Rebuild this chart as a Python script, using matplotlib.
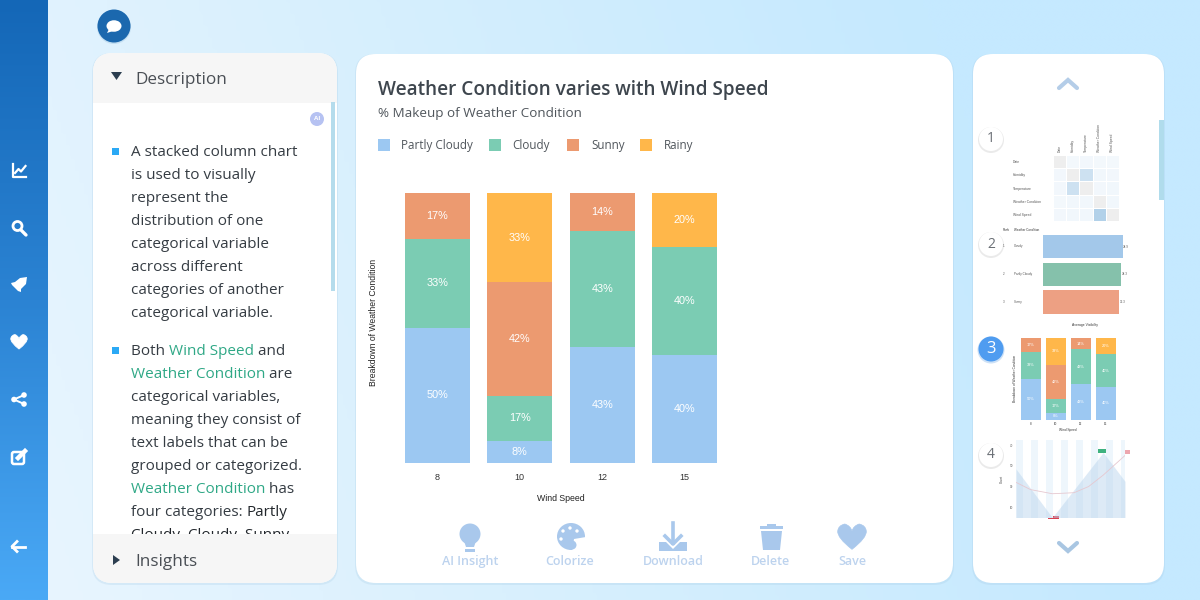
import numpy as np
import matplotlib
matplotlib.use('Agg')
import matplotlib.pyplot as plt
from matplotlib.colors import LinearSegmentedColormap
from matplotlib.patches import Circle, Ellipse, FancyBboxPatch, PathPatch, Polygon, Rectangle
from matplotlib.path import Path

# main chart data
wind_speed = ['8', '10', '12', '15']
weather = ['Partly Cloudy', 'Cloudy', 'Sunny', 'Rainy']
partly_cloudy = [50, 8, 43, 40]
cloudy = [33, 17, 43, 40]
sunny = [17, 42, 14, 0]
rainy = [0, 33, 0, 20]
series_colors = ['#9cc8f2', '#7bccb3', '#ec9a70', '#ffb74a']

# thumbnail 1, correlation grid
heat_labels = ['Date', 'Humidity', 'Temperature', 'Weather Condition', 'Wind Speed']
heat_values = [[np.nan, 0.03, 0.04, 0.03, 0.03],
               [0.04, np.nan, 0.45, 0.05, 0.04],
               [0.04, 0.45, np.nan, 0.04, 0.05],
               [0.03, 0.05, 0.05, np.nan, 0.05],
               [0.04, 0.05, 0.05, 0.75, np.nan]]

# thumbnail 2, ranking
rank_labels = ['Cloudy', 'Partly Cloudy', 'Sunny']
rank_values = [34.9, 34.3, 33.3]
rank_colors = ['#a3c8ea', '#85c1ab', '#eda083']

# thumbnail 4, area and trend
area_x = [5, 10, 17, 20]
area_y = [47, 0, 63, 35]
trend_x = [5, 7, 10, 13, 15, 17, 20]
trend_y = [34, 27, 23, 24, 30, 41, 60]

# text of the description panel
DARK = '#353c43'
GREEN = '#2fa886'
BLACK = '#22272c'
desc_lines = [
    (151, [('A stacked column chart', DARK)]),
    (174, [('is used to visually', DARK)]),
    (197, [('represent the', DARK)]),
    (220, [('distribution of one', DARK)]),
    (243, [('categorical variable', DARK)]),
    (266, [('across different', DARK)]),
    (289, [('categories of another', DARK)]),
    (312, [('categorical variable.', DARK)]),
    (350, [('Both ', DARK), ('Wind Speed', GREEN), (' and', DARK)]),
    (373, [('Weather Condition', GREEN), (' are', DARK)]),
    (396, [('categorical variables,', DARK)]),
    (419, [('meaning they consist of', DARK)]),
    (442, [('text labels that can be', DARK)]),
    (465, [('grouped or categorized.', DARK)]),
    (488, [('Weather Condition', GREEN), (' has', DARK)]),
    (511, [('four categories: ', DARK), ('Partly', BLACK)]),
    (534, [('Cloudy, Cloudy, Sunny', BLACK)]),
]

plt.rcParams['font.family'] = ['Open Sans', 'DejaVu Sans']
fig = plt.figure(figsize=(12, 6), dpi=100)
ui = fig.add_axes([0, 0, 1, 1], zorder=0)
ui.set_xlim(0, 1200)
ui.set_ylim(600, 0)
ui.axis('off')


def px_axes(x0, y0, x1, y1):
    # axes from pixel box, y measured from the top
    ax = fig.add_axes([x0 / 1200, 1 - y1 / 600, (x1 - x0) / 1200, (y1 - y0) / 600], zorder=2)
    ax.patch.set_alpha(0)
    return ax


def panel(x0, y0, x1, y1, r=20, color='white', z=2):
    ui.add_patch(FancyBboxPatch((x0 + r, y0 + r + 1), x1 - x0 - 2 * r, y1 - y0 - 2 * r,
                                boxstyle='round,pad=%d,rounding_size=%d' % (r + 1, r),
                                fc='#9cc4e0', ec='none', alpha=0.22, zorder=z - 0.5))
    ui.add_patch(FancyBboxPatch((x0 + r, y0 + r), x1 - x0 - 2 * r, y1 - y0 - 2 * r,
                                boxstyle='round,pad=%d,rounding_size=%d' % (r, r),
                                fc=color, ec='none', zorder=z))


def heart(cx, cy, s, color, z=6):
    verts = [(0, 0.95), (-1.15, 0.05), (-1.1, -0.45), (-1.05, -0.9), (-0.55, -1.0), (-0.1, -0.85), (0, -0.45),
             (0.1, -0.85), (0.55, -1.0), (1.05, -0.9), (1.1, -0.45), (1.15, 0.05), (0, 0.95)]
    verts = [(cx + a * s, cy + b * s) for a, b in verts]
    codes = [Path.MOVETO, Path.CURVE3, Path.CURVE3, Path.CURVE3, Path.CURVE3, Path.CURVE3, Path.LINETO,
             Path.CURVE3, Path.CURVE3, Path.CURVE3, Path.CURVE3, Path.CURVE3, Path.CURVE3]
    ui.add_patch(PathPatch(Path(verts, codes), fc=color, ec=color, lw=0.5, zorder=z))


def chevron(cx, cy, up, color):
    d = -1 if up else 1
    ui.plot([cx - 9, cx, cx + 9], [cy - 4 * d, cy + 4 * d, cy - 4 * d], color=color, lw=3,
            solid_capstyle='round', solid_joinstyle='miter', zorder=6)


def stacked(ax, width, fs, lab_fs):
    x = np.arange(len(wind_speed))
    bottom = np.zeros(len(x))
    for vals, col in zip([partly_cloudy, cloudy, sunny, rainy], series_colors):
        vals = np.array(vals)
        ax.bar(x, vals, width, bottom=bottom, color=col)
        for i, v in enumerate(vals):
            if v > 0:
                ax.text(i, bottom[i] + v / 2, '%d%%' % v, color='white', ha='center', va='center',
                        fontsize=lab_fs, family='Liberation Sans')
        bottom = bottom + vals
    ax.set_xlim(-0.5, 3.5)
    ax.set_ylim(0, 100)
    ax.set_xticks(x)
    ax.set_xticklabels(wind_speed, fontsize=fs, family='Liberation Sans', color='#333333')
    ax.set_yticks([])
    for s in ax.spines.values():
        s.set_visible(False)


# page background
gx = np.linspace(0, 1, 256).reshape(1, -1)
gy = np.linspace(1, 0, 256).reshape(-1, 1)
grad = np.clip(1.05 * gx + 0.2 * gy, 0, 1)
bg_cmap = LinearSegmentedColormap.from_list('bg', ['#e8f5ff', '#d6effd', '#c5e9ff'])
ui.imshow(grad, extent=[48, 1200, 600, 0], cmap=bg_cmap, aspect='auto', zorder=0)
side_cmap = LinearSegmentedColormap.from_list('side', ['#1467b7', '#2b83d3', '#4aa9f6'])
ui.imshow(np.linspace(0, 1, 256).reshape(-1, 1), extent=[0, 48, 600, 0], cmap=side_cmap, aspect='auto', zorder=1)
ui.set_xlim(0, 1200)
ui.set_ylim(600, 0)

# sidebar icons
W = 'white'
ui.plot([12.5, 12.5, 26], [164, 177, 177], color=W, lw=1.6, zorder=6)
ui.plot([15, 18.5, 21, 25.5], [173, 169, 171.5, 166], color=W, lw=1.6, zorder=6)
ui.add_patch(Circle((17.5, 226), 4.5, fc='none', ec=W, lw=2, zorder=6))
ui.plot([21, 26], [230, 235], color=W, lw=2.4, zorder=6, solid_capstyle='round')
ui.add_patch(Polygon([(27, 277), (26, 284), (21, 289), (21, 292), (18, 291), (15, 288), (12, 285), (11, 283),
                      (15, 282), (20, 278)], fc=W, zorder=6))
heart(19, 342, 7.5, W)
for c in [(14, 399.5), (24, 395), (24, 404)]:
    ui.add_patch(Circle(c, 2.8, fc=W, ec='none', zorder=6))
ui.plot([24, 14, 24], [395, 399.5, 404], color=W, lw=1.4, zorder=6)
ui.add_patch(FancyBboxPatch((13, 453), 10, 10, boxstyle='round,pad=1,rounding_size=2', fc='none', ec=W, lw=1.8, zorder=6))
ui.plot([18, 25], [458, 451], color=W, lw=3.2, zorder=6)
ui.plot([25, 12], [546.5, 546.5], color=W, lw=2, zorder=6)
ui.plot([17, 12, 17], [541.5, 546.5, 551.5], color=W, lw=2, zorder=6)

# chat bubble
ui.add_patch(Circle((114, 27), 17, fc='#a8cce6', ec='none', alpha=0.5, zorder=2))
ui.add_patch(Circle((114, 26), 16.5, fc='#1b68ae', ec='none', zorder=3))
ui.add_patch(Ellipse((114, 26), 15, 11.5, fc=W, ec='none', zorder=4))
ui.add_patch(Polygon([(109, 29), (107, 33), (113, 31)], fc=W, zorder=4))

# left panel
panel(93, 53, 337, 583)
ui.add_patch(FancyBboxPatch((113, 73), 204, 30, boxstyle='round,pad=20,rounding_size=20', fc='#f6f6f6', ec='none', zorder=3))
ui.add_patch(Rectangle((93, 103), 244, 60, fc=W, ec='none', zorder=3.1))
ui.add_patch(Polygon([(111, 72), (122, 72), (116.5, 80)], fc='#2c3e50', zorder=6))
ui.text(135, 79.5, 'Description', fontsize=12.3, color='#4a4f55', va='center', zorder=6)
ui.add_patch(Circle((317, 119), 7, fc='#b6c2f2', ec='none', zorder=6))
ui.text(317, 119, 'AI', fontsize=4.5, color=W, ha='center', va='center', zorder=7, weight='bold')
ui.add_patch(Rectangle((331, 102), 4, 189, fc='#b5dcec', ec='none', zorder=6))

renderer = fig.canvas.get_renderer()
for y, parts in desc_lines:
    x = 131
    for txt, col in parts:
        ui.text(x, y + 1.5, txt, fontsize=11, color=col, va='center', zorder=4)
        # trailing spaces do not always count in the extent, so measure with a stand-in
        probe = ui.text(0, 0, txt.replace(' ', '\u00a0'), fontsize=11)
        x += probe.get_window_extent(renderer).width
        probe.remove()
for yb in [151, 350]:
    ui.add_patch(Rectangle((112, yb - 3.5), 7, 7, fc='#2ba9f5', ec='none', zorder=6))

# insights bar covers the last text line
ui.add_patch(Rectangle((93, 534), 244, 20, fc='#f6f6f6', ec='none', zorder=5))
ui.add_patch(FancyBboxPatch((113, 554), 204, 9, boxstyle='round,pad=20,rounding_size=20', fc='#f6f6f6', ec='none', zorder=5))
ui.add_patch(Polygon([(113, 555), (113, 565), (120, 560)], fc='#2c3e50', zorder=6))
ui.text(135, 561.5, 'Insights', fontsize=12.3, color='#4a4f55', va='center', zorder=6)

# centre panel
panel(356, 54, 953, 583)
ui.text(378, 90, 'Weather Condition varies with Wind Speed', fontsize=13.65, weight=600, color='#3e464e', va='center', zorder=6)
ui.text(378, 114, '% Makeup of Weather Condition', fontsize=9.7, color='#50565c', va='center', zorder=6)
for lx, tx, name, col in zip([378, 489, 567, 640], [401, 512, 591, 664], weather, series_colors):
    ui.add_patch(Rectangle((lx, 138.5), 12, 12, fc=col, ec='none', zorder=6))
    ui.text(tx, 145.5, name, fontsize=8.4, color='#50565c', va='center', zorder=6)

ax = px_axes(396, 193, 726, 463)
stacked(ax, 0.79, 6.5, 7.8)
ax.tick_params(axis='x', length=0, pad=7.5)
ax.set_xlabel('Wind Speed', fontsize=6.3, family='Liberation Sans', labelpad=8, color='#222222')
ax.set_ylabel('Breakdown of Weather Condition', fontsize=6.2, family='Liberation Sans', color='#222222')
ax.yaxis.set_label_coords(-0.055, 0.52)

# toolbar
TOOL = '#a9c8ec'
TOOL_TXT = '#bdd3ee'
for cx, name in zip([470, 570, 673, 771, 852], ['AI Insight', 'Colorize', 'Download', 'Delete', 'Save']):
    ui.text(cx, 565, name, fontsize=9, color=TOOL_TXT, ha='center', va='baseline', weight=600, zorder=6)
ui.add_patch(Circle((470, 534), 10.5, fc=TOOL, ec='none', zorder=6))
ui.add_patch(Polygon([(464, 541), (476, 541), (474, 547), (466, 547)], fc=TOOL, zorder=6))
ui.add_patch(Rectangle((465, 548.5), 10, 3, fc=TOOL, ec='none', zorder=6))
ui.add_patch(Ellipse((571, 536.5), 28, 27, fc=TOOL, ec='none', zorder=6))
ui.add_patch(Polygon([(574, 539), (586, 537), (586, 552), (572, 552)], fc=W, zorder=6))
for c in [(563, 531), (570, 528), (577, 531), (561, 539)]:
    ui.add_patch(Circle(c, 1.7, fc=W, ec='none', zorder=7))
ui.add_patch(Circle((572, 545), 4.5, fc=TOOL, ec='none', zorder=7))
ui.add_patch(Polygon([(659, 542), (666, 542), (673, 549), (680, 542), (687, 542), (687, 551), (659, 551)], fc=TOOL, zorder=6))
ui.plot([673, 673], [523, 543], color=TOOL, lw=2.6, zorder=6)
ui.plot([665, 673, 681], [536, 544, 536], color=TOOL, lw=2.6, zorder=6)
ui.add_patch(Rectangle((760, 526), 23, 2.5, fc=TOOL, ec='none', zorder=6))
ui.add_patch(Rectangle((767, 524), 9, 2.5, fc=TOOL, ec='none', zorder=6))
ui.add_patch(Polygon([(761, 531), (782, 531), (780, 550), (763, 550)], fc=TOOL, zorder=6))
heart(852, 537, 13, TOOL)

# right panel
panel(973, 54, 1164, 583)
ui.add_patch(Rectangle((1159, 120), 5, 80, fc='#b0dcec', ec='none', zorder=6))
chevron(1068, 84, True, '#b4cde8')
chevron(1068, 547, False, '#a9c6e2')
for n, cy in zip([1, 2, 4], [139, 244, 455]):
    ui.add_patch(Circle((991, cy + 1), 13, fc='#c4c4c4', ec='none', alpha=0.35, zorder=5))
    ui.add_patch(Circle((991, cy), 12, fc=W, ec='none', zorder=6))
    ui.text(991, cy, str(n), fontsize=10, color='#6a6f75', ha='center', va='center', zorder=7)
ui.add_patch(Circle((991, 350), 13.5, fc='#9cc4ee', ec='none', alpha=0.5, zorder=5))
ui.add_patch(Circle((991, 349), 12.5, fc='#4f9cf0', ec='none', zorder=6))
ui.text(991, 349, '3', fontsize=12, color=W, ha='center', va='center', zorder=7)

# thumbnail 1
ax1 = px_axes(1053, 155, 1119, 221)
heat_cmap = LinearSegmentedColormap.from_list('heat', ['#f5f9fd', '#9cc4e2']).copy()
heat_cmap.set_bad('#eeeeee')
ax1.pcolormesh(np.ma.masked_invalid(np.array(heat_values)), cmap=heat_cmap, vmin=0, vmax=1, edgecolors='white', linewidth=0.5)
ax1.set_ylim(5, 0)
ax1.xaxis.tick_top()
ax1.set_xticks(np.arange(5) + 0.5)
ax1.set_xticklabels(heat_labels, rotation=90, fontsize=2.4, color='#555555', family='Liberation Sans')
ax1.set_yticks(np.arange(5) + 0.5)
ax1.set_yticklabels(heat_labels, fontsize=2.4, color='#555555', family='Liberation Sans', ha='left')
ax1.tick_params(length=0, pad=2)
ax1.tick_params(axis='y', pad=29)
for s in ax1.spines.values():
    s.set_visible(False)

# thumbnail 2
ax2 = px_axes(1043, 233, 1130, 317)
ypos = np.arange(3)
ax2.barh(ypos, rank_values, 0.85, color=rank_colors)
ax2.set_ylim(2.55, -0.5)
ax2.set_xlim(0, 38.1)
ax2.axis('off')
for i, v in enumerate(rank_values):
    ax2.text(v + 0.3, i, '%.1f' % v, fontsize=2.2, color='#555555', va='center', family='Liberation Sans')
    ui.text(1003, 246 + i * 28, str(i + 1), fontsize=2.2, color='#555555', va='center', zorder=6, family='Liberation Sans')
    ui.text(1014, 246 + i * 28, rank_labels[i], fontsize=2.2, color='#555555', va='center', zorder=6, family='Liberation Sans')
ui.text(1003, 230, 'Rank', fontsize=2.2, color='#333333', va='center', zorder=6, family='Liberation Sans')
ui.text(1014, 230, 'Weather Condition', fontsize=2.2, color='#333333', va='center', zorder=6, family='Liberation Sans')
ui.text(1085, 325, 'Average Visibility', fontsize=2.4, color='#333333', ha='center', va='center', zorder=6, family='Liberation Sans')

# thumbnail 3
ax3 = px_axes(1018, 338, 1118, 419.5)
stacked(ax3, 0.8, 2.2, 2.8)
ax3.tick_params(axis='x', length=0, pad=2)
ax3.set_xlabel('Wind Speed', fontsize=2.3, family='Liberation Sans', labelpad=1.5, color='#333333')
ax3.set_ylabel('Breakdown of Weather Condition', fontsize=2.3, family='Liberation Sans', color='#333333', labelpad=1)

# thumbnail 4
ax4 = px_axes(1016, 440, 1125, 517.5)
ax4.set_xlim(5, 20)
ax4.set_ylim(0, 75)
for i in range(8):
    ax4.axvspan(5 + i * 2.06, 5 + i * 2.06 + 1.03, color='#eef6fc', lw=0, zorder=0)
ax4.fill_between(area_x, area_y, color='#bcd6ee', alpha=0.5, lw=0, zorder=1)
ax4.plot(trend_x, trend_y, color='#e6c8d0', lw=0.6, zorder=2)
ax4.set_xticks([])
ax4.set_yticks([10, 30, 50, 70])
ax4.set_yticklabels(['10', '30', '50', '70'], fontsize=2.2, color='#555555', family='Liberation Sans')
ax4.tick_params(length=0, pad=2)
ax4.set_ylabel('Count', fontsize=2.2, family='Liberation Sans', color='#333333', labelpad=4)
for s in ax4.spines.values():
    s.set_visible(False)
ui.add_patch(Rectangle((1097, 449), 11, 4, fc='#3fb27f', ec='none', zorder=6))
ui.add_patch(Rectangle((1123, 450), 7, 4, fc='#eda6ae', ec='none', zorder=6))
ui.add_patch(Rectangle((1048, 516), 11, 2.5, fc='#d9404f', ec='none', zorder=6))

fig.savefig('out.png', dpi=100)
